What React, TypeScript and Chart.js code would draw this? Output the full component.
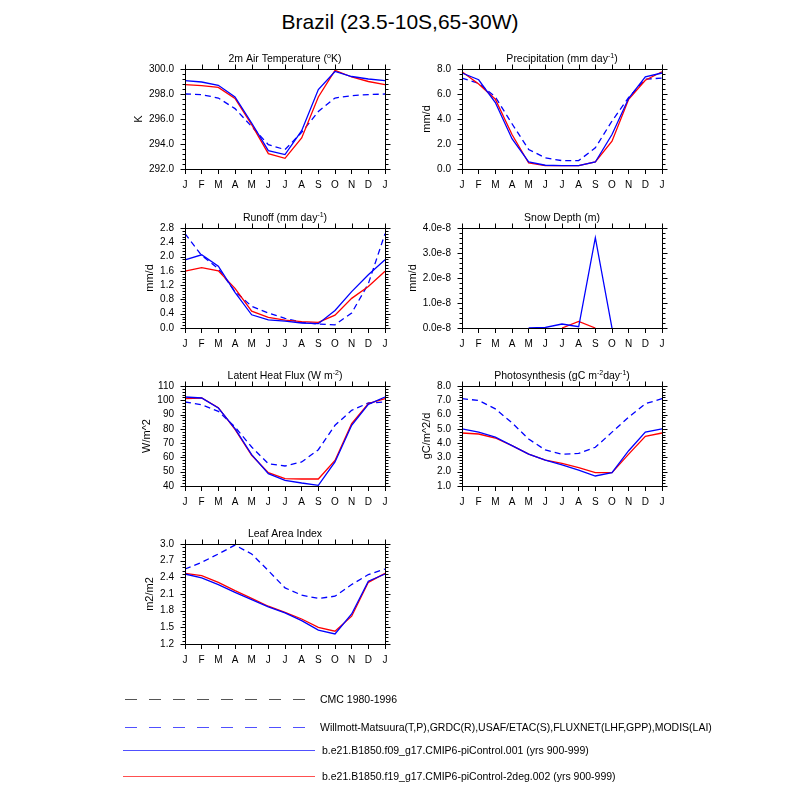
import React, { useEffect, useRef } from "react";
import { Chart, registerables } from "chart.js";
Chart.register(...registerables);

const months = ["J", "F", "M", "A", "M", "J", "J", "A", "S", "O", "N", "D", "J"];

// 2m Air Temperature (K)
const tempObs = [298.0, 297.95, 297.68, 296.83, 295.4, 293.95, 293.55, 294.93, 296.6, 297.68, 297.87, 297.95, 298.0];
const tempM1 = [299.07, 298.96, 298.7, 297.76, 295.68, 293.47, 293.15, 295.07, 298.35, 299.8, 299.4, 299.2, 299.07];
const tempM2 = [298.75, 298.67, 298.53, 297.65, 295.55, 293.23, 292.85, 294.48, 297.76, 299.89, 299.36, 299.0, 298.75];

// Precipitation (mm/d)
const precObs = [7.27, 6.85, 5.77, 3.62, 1.56, 0.89, 0.67, 0.67, 1.69, 3.84, 5.72, 7.19, 7.27];
const precM1 = [7.68, 7.14, 5.32, 2.42, 0.56, 0.3, 0.27, 0.27, 0.56, 2.76, 5.66, 7.38, 7.68];
const precM2 = [7.78, 6.8, 5.58, 2.76, 0.48, 0.27, 0.27, 0.27, 0.56, 2.23, 5.58, 7.1, 7.78];

// Runoff (mm/d)
const runObs = [2.64, 2.03, 1.66, 1.02, 0.61, 0.42, 0.27, 0.16, 0.11, 0.09, 0.42, 1.24, 2.64];
const runM1 = [1.91, 2.05, 1.73, 1.0, 0.37, 0.23, 0.19, 0.14, 0.12, 0.49, 1.02, 1.49, 1.91];
const runM2 = [1.59, 1.69, 1.6, 1.11, 0.47, 0.3, 0.22, 0.18, 0.16, 0.36, 0.83, 1.16, 1.59];

// Snow Depth (m)
const snowM1 = [null, null, null, null, 0, 0.02e-8, 0.16e-8, 0.05e-8, 3.61e-8, 0, null, null, null];
const snowM2 = [null, null, null, null, null, null, 0, 0.26e-8, 0, null, null, null, null];

// Latent Heat Flux (W/m^2)
const lhfObs = [98.8, 96.9, 92.3, 81.3, 67.3, 55.6, 54.0, 56.8, 65.4, 82.5, 93.0, 98.1, 98.8];
const lhfM1 = [102.3, 101.6, 94.6, 80.1, 62.0, 48.6, 44.0, 42.1, 40.5, 56.8, 82.5, 97.2, 102.3];
const lhfM2 = [101.1, 101.6, 94.8, 79.6, 61.5, 49.3, 45.2, 44.9, 44.9, 57.9, 83.6, 97.7, 101.1];

// Photosynthesis (gC/m^2/d)
const gppObs = [7.11, 6.99, 6.4, 5.42, 4.29, 3.52, 3.23, 3.28, 3.71, 4.77, 5.82, 6.76, 7.11];
const gppM1 = [5.0, 4.77, 4.42, 3.83, 3.23, 2.81, 2.48, 2.11, 1.7, 1.94, 3.47, 4.77, 5.0];
const gppM2 = [4.71, 4.64, 4.36, 3.83, 3.23, 2.81, 2.58, 2.29, 1.94, 1.94, 3.23, 4.47, 4.71];

// Leaf Area Index (m2/m2)
const laiObs = [2.55, 2.67, 2.82, 2.98, 2.82, 2.52, 2.21, 2.08, 2.02, 2.06, 2.27, 2.45, 2.55];
const laiM1 = [2.46, 2.39, 2.27, 2.13, 2.0, 1.87, 1.76, 1.62, 1.45, 1.38, 1.74, 2.33, 2.46];
const laiM2 = [2.47, 2.43, 2.31, 2.16, 2.02, 1.88, 1.77, 1.65, 1.5, 1.43, 1.7, 2.31, 2.47];

const mainTitle = "Brazil (23.5-10S,65-30W)";
const legendLabels = [
  "CMC 1980-1996",
  "Willmott-Matsuura(T,P),GRDC(R),USAF/ETAC(S),FLUXNET(LHF,GPP),MODIS(LAI)",
  "b.e21.B1850.f09_g17.CMIP6-piControl.001 (yrs 900-999)",
  "b.e21.B1850.f19_g17.CMIP6-piControl-2deg.002 (yrs 900-999)",
];

const FONT = "'Liberation Sans', Arial, Helvetica, sans-serif";

type Seg = { t: string; sup?: boolean };
type Arr = (number | null)[];
interface PanelDef {
  title: Seg[];
  ylabel: string;
  min: number;
  max: number;
  step: number;
  fmt: (v: number) => string;
  obs: Arr | null;
  m1: Arr;
  m2: Arr;
  left: number;
  top: number;
}

const PW = 200;
const PH = 100;
const PADL = 75;
const PADT = 28;
const PADR = 20;
const PADB = 30;

const f1 = (v: number) => v.toFixed(1);

const panels: PanelDef[] = [
  {
    title: [{ t: "2m Air Temperature (" }, { t: "o", sup: true }, { t: "K)" }],
    ylabel: "K", min: 292, max: 300, step: 2, fmt: f1,
    obs: tempObs, m1: tempM1, m2: tempM2, left: 185, top: 69,
  },
  {
    title: [{ t: "Precipitation (mm day" }, { t: "-1", sup: true }, { t: ")" }],
    ylabel: "mm/d", min: 0, max: 8, step: 2, fmt: f1,
    obs: precObs, m1: precM1, m2: precM2, left: 462, top: 69,
  },
  {
    title: [{ t: "Runoff (mm day" }, { t: "-1", sup: true }, { t: ")" }],
    ylabel: "mm/d", min: 0, max: 2.8, step: 0.4, fmt: f1,
    obs: runObs, m1: runM1, m2: runM2, left: 185, top: 228,
  },
  {
    title: [{ t: "Snow Depth (m)" }],
    ylabel: "mm/d", min: 0, max: 4e-8, step: 1e-8, fmt: (v) => (v * 1e8).toFixed(1) + "e-8",
    obs: null, m1: snowM1, m2: snowM2, left: 462, top: 228,
  },
  {
    title: [{ t: "Latent Heat Flux (W m" }, { t: "-2", sup: true }, { t: ")" }],
    ylabel: "W/m^2", min: 40, max: 110, step: 10, fmt: (v) => String(Math.round(v)),
    obs: lhfObs, m1: lhfM1, m2: lhfM2, left: 185, top: 386,
  },
  {
    title: [{ t: "Photosynthesis (gC m" }, { t: "-2", sup: true }, { t: "day" }, { t: "-1", sup: true }, { t: ")" }],
    ylabel: "gC/m^2/d", min: 1, max: 8, step: 1, fmt: f1,
    obs: gppObs, m1: gppM1, m2: gppM2, left: 462, top: 386,
  },
  {
    title: [{ t: "Leaf Area Index" }],
    ylabel: "m2/m2", min: 1.2, max: 3.0, step: 0.3, fmt: f1,
    obs: laiObs, m1: laiM1, m2: laiM2, left: 185, top: 544,
  },
];

function Panel({ def }: { def: PanelDef }) {
  const ref = useRef<HTMLCanvasElement | null>(null);
  useEffect(() => {
    const canvas = ref.current!;
    const datasets: any[] = [];
    if (def.obs) {
      datasets.push({
        label: "obs", data: def.obs, borderColor: "#0000ff", borderWidth: 1.3,
        borderDash: [6, 4], pointRadius: 0, fill: false, order: 3, tension: 0,
      });
    }
    datasets.push({
      label: "m2", data: def.m2, borderColor: "#ff0000", borderWidth: 1.3,
      pointRadius: 0, fill: false, order: 2, tension: 0,
    });
    datasets.push({
      label: "m1", data: def.m1, borderColor: "#0000ff", borderWidth: 1.3,
      pointRadius: 0, fill: false, order: 1, tension: 0,
    });

    const decor = {
      id: "decor",
      afterDatasetsDraw(chart: any) {
        const ctx = chart.ctx as CanvasRenderingContext2D;
        const a = chart.chartArea;
        const ys = chart.scales.y;
        const xs = chart.scales.x;
        ctx.save();
        ctx.strokeStyle = "#000";
        ctx.lineWidth = 1;
        const L = Math.round(a.left) + 0.5;
        const R = Math.round(a.right) + 0.5;
        const T = Math.round(a.top) + 0.5;
        const B = Math.round(a.bottom) + 0.5;
        ctx.beginPath();
        ctx.rect(L, T, R - L, B - T);
        // top ticks
        for (let i = 0; i < months.length; i++) {
          const x = Math.round(xs.getPixelForValue(i)) + 0.5;
          ctx.moveTo(x, T);
          ctx.lineTo(x, T - 5);
        }
        // right major ticks + minor ticks both sides
        const minor = def.step / 5;
        const n = Math.round((def.max - def.min) / minor);
        for (let k = 0; k <= n; k++) {
          const v = def.min + k * minor;
          const y = Math.round(ys.getPixelForValue(v)) + 0.5;
          const major = k % 5 === 0;
          const len = major ? 5 : 3;
          ctx.moveTo(R, y);
          ctx.lineTo(R + len, y);
          ctx.moveTo(L, y);
          ctx.lineTo(L - len, y);
        }
        ctx.stroke();
        ctx.restore();
      },
      afterDraw(chart: any) {
        const ctx = chart.ctx as CanvasRenderingContext2D;
        const a = chart.chartArea;
        ctx.save();
        ctx.fillStyle = "#000";
        // panel title with superscripts
        const base = 10.5;
        const sup = 7;
        let total = 0;
        for (const s of def.title) {
          ctx.font = `${s.sup ? sup : base}px ${FONT}`;
          total += ctx.measureText(s.t).width;
        }
        let x = (a.left + a.right) / 2 - total / 2;
        const yb = a.top - 7;
        ctx.textBaseline = "alphabetic";
        ctx.textAlign = "left";
        for (const s of def.title) {
          ctx.font = `${s.sup ? sup : base}px ${FONT}`;
          ctx.fillText(s.t, x, s.sup ? yb - 4 : yb);
          x += ctx.measureText(s.t).width;
        }
        // y-axis title
        ctx.font = `10px ${FONT}`;
        let maxW = 0;
        const nt = Math.round((def.max - def.min) / def.step);
        for (let k = 0; k <= nt; k++) {
          maxW = Math.max(maxW, ctx.measureText(def.fmt(def.min + k * def.step)).width);
        }
        const tx = a.left - 11 - maxW - 10;
        ctx.font = `11px ${FONT}`;
        ctx.translate(tx, (a.top + a.bottom) / 2);
        ctx.rotate(-Math.PI / 2);
        ctx.textAlign = "center";
        ctx.textBaseline = "middle";
        ctx.fillText(def.ylabel, 0, 0);
        ctx.restore();
      },
    };

    const chart = new Chart(canvas, {
      type: "line",
      data: { labels: months, datasets },
      options: {
        animation: false,
        responsive: false,
        devicePixelRatio: 1,
        layout: { padding: { left: 0, top: PADT, right: PADR, bottom: 0 } },
        plugins: { legend: { display: false }, tooltip: { enabled: false }, title: { display: false } },
        elements: { line: { tension: 0 } },
        spanGaps: false,
        scales: {
          x: {
            type: "category",
            offset: false,
            grid: { drawOnChartArea: false, drawTicks: true, tickLength: 5, color: "#000", lineWidth: 1 },
            border: { display: true, color: "#000", width: 1 },
            ticks: { color: "#000", font: { family: FONT, size: 10 }, padding: 5, autoSkip: false, maxRotation: 0 },
            afterFit: (s: any) => { s.height = PADB; },
          },
          y: {
            type: "linear",
            min: def.min,
            max: def.max,
            grid: { drawOnChartArea: false, drawTicks: false, color: "#000", lineWidth: 1 },
            border: { display: true, color: "#000", width: 1 },
            ticks: {
              stepSize: def.step,
              autoSkip: false,
              color: "#000",
              font: { family: FONT, size: 10 },
              padding: 11,
              callback: (v: any) => def.fmt(Number(v)),
            },
            afterFit: (s: any) => { s.width = PADL; },
          },
        },
      } as any,
      plugins: [decor],
    });
    return () => chart.destroy();
  }, [def]);

  const w = PADL + PW + PADR;
  const h = PADT + PH + PADB;
  return (
    <canvas
      ref={ref}
      width={w}
      height={h}
      style={{ position: "absolute", left: def.left - PADL, top: def.top - PADT, width: w, height: h }}
    />
  );
}

function Legend() {
  const ref = useRef<HTMLCanvasElement | null>(null);
  useEffect(() => {
    const c = ref.current!;
    const ctx = c.getContext("2d")!;
    ctx.clearRect(0, 0, c.width, c.height);
    const items = [
      { color: "#555555", dash: [12, 12], x0: 125, x1: 307, y: 39, tx: 320 },
      { color: "#5050ff", dash: [12, 12], x0: 125, x1: 307, y: 67, tx: 320 },
      { color: "#5050ff", dash: [], x0: 123, x1: 315, y: 90, tx: 322 },
      { color: "#ff5050", dash: [], x0: 123, x1: 315, y: 116, tx: 322 },
    ];
    items.forEach((it, i) => {
      ctx.save();
      ctx.strokeStyle = it.color;
      ctx.lineWidth = 1;
      ctx.setLineDash(it.dash);
      ctx.beginPath();
      ctx.moveTo(it.x0, it.y + 0.5);
      ctx.lineTo(it.x1, it.y + 0.5);
      ctx.stroke();
      ctx.restore();
      ctx.fillStyle = "#000";
      ctx.font = `10.5px ${FONT}`;
      ctx.textBaseline = "middle";
      ctx.fillText(legendLabels[i], it.tx, it.y + 1);
    });
  }, []);
  return (
    <canvas ref={ref} width={800} height={140} style={{ position: "absolute", left: 0, top: 660, width: 800, height: 140 }} />
  );
}

export default function App() {
  return (
    <div style={{ position: "absolute", left: 0, top: 0, width: 800, height: 800, background: "#fff", overflow: "hidden" }}>
      <div
        style={{
          position: "absolute", left: 0, top: 9, width: 800, textAlign: "center",
          fontFamily: FONT, fontSize: 21, color: "#000", lineHeight: "26px",
        }}
      >
        {mainTitle}
      </div>
      {panels.map((p, i) => (
        <Panel key={i} def={p} />
      ))}
      <Legend />
    </div>
  );
}
